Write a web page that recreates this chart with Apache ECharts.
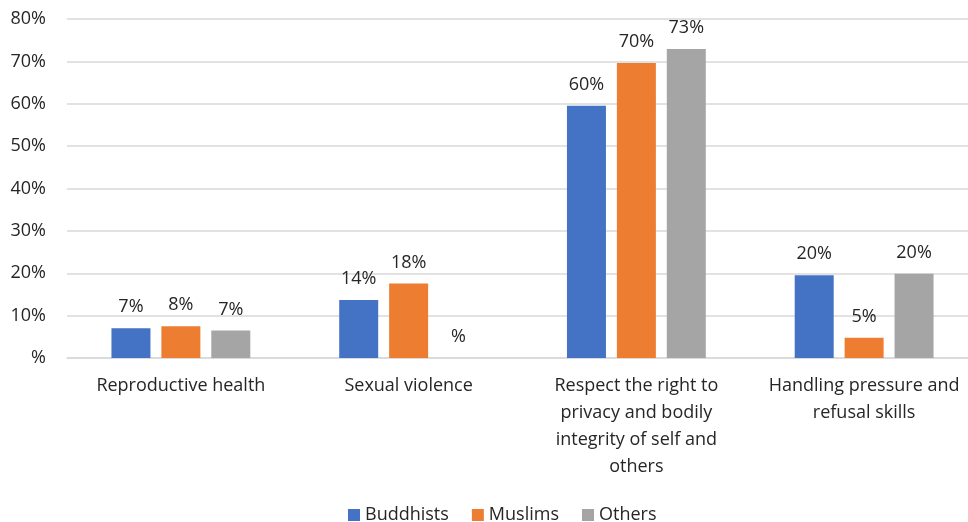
<!DOCTYPE html>
<html>
<head>
<meta charset="utf-8">
<script src="https://cdn.jsdelivr.net/npm/echarts@6/dist/echarts.min.js"></script>
<style>
html,body{margin:0;padding:0;background:#fff;}
#chart{width:968px;height:522px;}
</style>
</head>
<body>
<div id="chart"></div>
<script>
const categories = [
  "Reproductive health",
  "Sexual violence",
  "Respect the right to\nprivacy and bodily\nintegrity of self and\nothers",
  "Handling pressure and\nrefusal skills"
];
const seriesNames = ["Buddhists", "Muslims", "Others"];
const buddhists = [7.0, 13.7, 59.5, 19.5];
const muslims = [7.5, 17.6, 69.6, 4.8];
const others = [6.5, 0, 72.9, 19.9];
const yTicks = { min: 0, max: 80, interval: 10 };
const colors = ["#4472C4", "#ED7D31", "#A5A5A5"];

const FONT = "Open Sans";
const FS = 18;
const TXT = "#262626";
const chart = echarts.init(document.getElementById('chart'));
const labelCfg = {
  show: true,
  position: 'top',
  distance: 12,
  fontFamily: FONT,
  fontSize: FS,
  color: TXT,
  formatter: p => (p.value === 0 ? '%' : Math.round(p.value) + '%')
};
function mk(name, data, i) {
  return {
    name: name,
    type: 'bar',
    data: data,
    barWidth: 39,
    barGap: '28%',
    itemStyle: { color: colors[i] },
    label: labelCfg
  };
}
chart.setOption({
  animation: false,
  grid: { left: 67, width: 911, top: 19, height: 339, outerBoundsMode: 'none', containLabel: false },
  legend: {
    left: 343,
    top: 501,
    itemWidth: 12,
    itemHeight: 12,
    itemGap: 23,
    icon: 'rect',
    textStyle: { fontFamily: FONT, fontSize: 18, color: TXT },
    data: seriesNames
  },
  xAxis: {
    type: 'category',
    data: categories,
    axisLine: { lineStyle: { color: '#d9d9d9', width: 1.5 } },
    axisTick: { show: false },
    axisLabel: {
      interval: 0,
      margin: 14,
      fontFamily: FONT,
      fontSize: FS,
      lineHeight: 27,
      color: TXT
    }
  },
  yAxis: {
    type: 'value',
    min: yTicks.min,
    max: yTicks.max,
    interval: yTicks.interval,
    axisLine: { show: false },
    axisTick: { show: false },
    splitLine: { lineStyle: { color: '#d9d9d9', width: 1.5 } },
    axisLabel: {
      margin: 21,
      fontFamily: FONT,
      fontSize: FS,
      color: TXT,
      formatter: v => (v === 0 ? '%' : v + '%')
    }
  },
  series: [
    mk(seriesNames[0], buddhists, 0),
    mk(seriesNames[1], muslims, 1),
    mk(seriesNames[2], others, 2)
  ]
});
</script>
</body>
</html>
